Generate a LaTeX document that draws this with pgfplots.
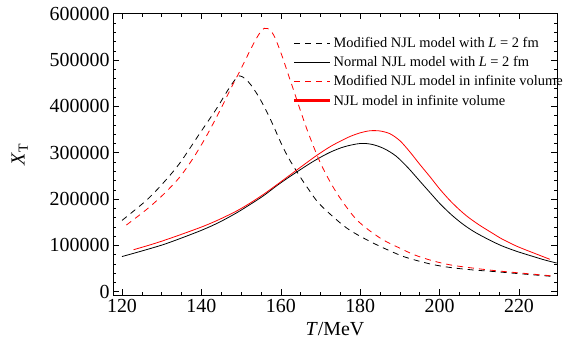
\documentclass[border=0pt]{standalone}
\usepackage{fontspec}
\setmainfont{Liberation Serif}
\usepackage{pgfplots}
\usepackage{pgfplotstable}
\pgfplotsset{compat=1.18}
\pgfplotstableread{
T y
120 154000
126.1 197000
130.3 234000
134.5 277000
139.6 342000
143.8 395000
146.5 433000
148.5 458000
149.6 466000
151 460000
152.5 446000
154.5 420000
156.5 388000
158.3 355000
160 322000
162 288000
164.8 249000
167 221000
169.9 188000
176.6 137500
183.3 105000
190 79000
194 68000
198.4 58500
203 52000
208.5 47000
213.5 43800
219.4 39500
228.6 33000
}\bdash
\pgfplotstableread{
T y
121.1 144000
126.1 177000
130.3 209000
134.5 247000
137.9 288000
141.2 335000
144.6 390000
147.9 447000
149.5 473000
151 499000
152.5 525000
153.8 546000
154.9 561000
155.8 568500
156.7 568000
157.6 562000
158.5 549000
159.4 530000
160.6 502000
162 466000
163.5 428000
165.7 372000
167.4 332000
170.3 272000
174.1 213000
179.1 155500
185 116000
190 94000
194 78500
198.4 66500
203 57500
208.5 51000
213.5 46000
219.4 41200
228 34500
}\rdash
\pgfplotstableread{
T y
120 76000
125 88000
130.3 101500
135 116000
140.4 134000
144.5 150000
148.8 170000
152.2 188000
155.6 207000
159 229000
162 247000
165 264000
168.5 283000
172.4 301000
176 313000
180 320000
183 318000
186 309000
189 293000
192 268000
195.1 238000
198 210000
200.1 190000
203 166000
206 145000
209 128000
212.5 112000
215.7 99000
219.5 87000
223.6 76000
226.5 68500
229.5 62000
}\bsolid
\pgfplotstableread{
T y
122.9 90700
127 101000
130.3 110000
135 124000
140.4 141000
144.5 156000
148.8 174000
152.2 191000
155.6 210000
159 231000
162 250000
165 269000
169 294000
172.4 313000
175 325000
177.4 335000
180 343000
182.5 347500
185 347000
187.5 341000
190 326000
192.5 302000
195 275000
197.6 248000
200 222000
202.6 197000
205 177000
207.2 161000
210 144000
213 128000
215.7 114000
219.5 98000
223.6 84000
227.8 70000
}\rsolid
\begin{document}
\begin{tikzpicture}
\path[use as bounding box] (0,0) rectangle (573bp,347bp);
\begin{axis}[
  at={(113bp,52bp)}, anchor=south west,
  scale only axis, width=444bp, height=281.7bp,
  xmin=117.73, xmax=229.57, ymin=-7000, ymax=601000,
  xtick={120,140,...,220}, minor x tick num=3,
  ytick={0,100000,...,600000}, minor y tick num=4,
  tick align=inside, major tick length=6bp, minor tick length=3.5bp,
  tick style={black, line width=0.6pt},
  axis line style={line width=0.8pt},
  scaled y ticks=false,
  /pgf/number format/assume math mode=true,
  yticklabel style={/pgf/number format/fixed, /pgf/number format/1000 sep={}},
  xticklabel style={yshift=-1bp},
  tick label style={font=\fontsize{20}{24}\selectfont},
  label style={font=\fontsize{20}{24}\selectfont},
  xlabel={\textit{T}/MeV}, ylabel={\textit{X}\textsubscript{T}},
  xlabel style={yshift=-3bp},
  ylabel style={at={(axis description cs:-0.21,0.5)}, anchor=center},
  legend image code/.code={\draw[#1] (0bp,0bp) -- (36bp,0bp);},
  legend style={at={(0.405,0.922)}, anchor=north west, draw=none, fill=none,
    font=\fontsize{14.5}{16}\selectfont, row sep=3.5bp, inner sep=0pt,
    cells={anchor=west}},
  legend cell align=left,
]
\addplot[black, line width=0.8pt, dash pattern=on 6bp off 5bp, smooth] table[x=T,y=y]{\bdash};
\addlegendentry{Modified NJL model with \textit{L} = 2 fm}
\addplot[black, line width=0.8pt, smooth] table[x=T,y=y]{\bsolid};
\addlegendentry{Normal NJL model with \textit{L} = 2 fm}
\addplot[red, line width=0.8pt, dash pattern=on 6bp off 5bp, smooth] table[x=T,y=y]{\rdash};
\addlegendentry{Modified NJL model in infinite volume}
\addplot[red, line width=0.8pt, smooth, legend image code/.code={\draw[red, line width=2.6pt] (0bp,0bp) -- (36bp,0bp);}] table[x=T,y=y]{\rsolid};
\addlegendentry{NJL model in infinite volume}
\end{axis}
\end{tikzpicture}
\end{document}
